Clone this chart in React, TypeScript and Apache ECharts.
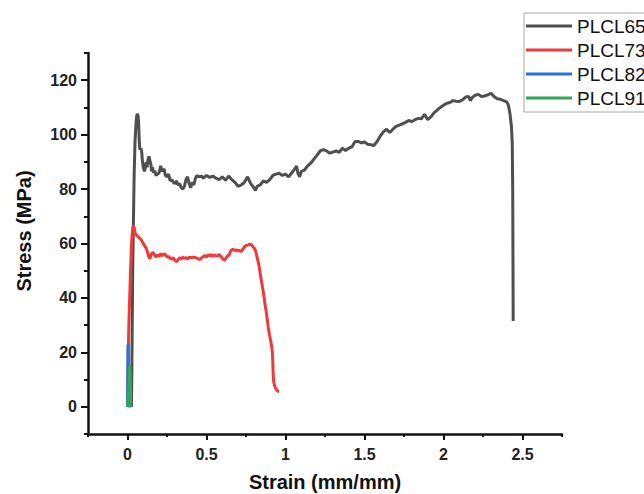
import React, { useEffect, useRef } from "react";
import * as echarts from "echarts";

const seriesNames = ["PLCL65", "PLCL73", "PLCL82", "PLCL91"];
const seriesColors = ["#4f4f4f", "#f03a3a", "#2b6fe0", "#2fa65c"];

const xMajorTicks = [0, 0.5, 1, 1.5, 2, 2.5];
const yMajorTicks = [0, 20, 40, 60, 80, 100, 120];

const plcl65: number[][] = [
  [0.025, 0], [0.027, 10], [0.03, 30], [0.033, 50], [0.037, 66], [0.042, 85], [0.048, 98], [0.055, 105],
  [0.06, 107.5], [0.066, 107.3], [0.07, 105], [0.074, 98], [0.078, 94.5], [0.085, 95], [0.09, 93.5],
  [0.095, 90], [0.1, 88], [0.107, 86.5], [0.112, 87.5], [0.118, 90], [0.124, 88], [0.13, 91], [0.136, 92],
  [0.142, 90.5], [0.148, 89], [0.152, 86.5], [0.158, 88], [0.165, 86], [0.172, 86.8], [0.18, 85],
  [0.19, 85.5], [0.2, 86], [0.21, 88.5], [0.22, 86.5], [0.23, 87.5], [0.24, 85], [0.25, 84.5], [0.26, 85.5],
  [0.27, 83], [0.28, 83.5], [0.29, 82.5], [0.3, 82], [0.31, 83], [0.32, 81.5], [0.33, 82], [0.34, 80.5],
  [0.35, 80], [0.36, 81], [0.37, 83.5], [0.38, 84.5], [0.39, 82], [0.4, 80.5], [0.41, 82.5], [0.42, 81.5],
  [0.43, 84], [0.44, 85], [0.45, 84.5], [0.47, 84.7], [0.48, 84], [0.5, 85], [0.52, 84.3], [0.54, 84.8],
  [0.56, 84], [0.58, 83.5], [0.6, 84.5], [0.62, 83.2], [0.64, 84.8], [0.66, 83.5], [0.68, 82.5], [0.7, 81],
  [0.72, 81.5], [0.74, 82.5], [0.76, 84.5], [0.78, 82], [0.8, 80.5], [0.81, 79.5], [0.82, 81], [0.84, 81.5],
  [0.86, 83], [0.88, 82.5], [0.9, 83.5], [0.92, 85], [0.94, 85.5], [0.96, 85.8], [0.98, 85], [1.0, 85.5],
  [1.02, 84.5], [1.04, 86], [1.06, 87.5], [1.07, 88.5], [1.08, 85.5], [1.09, 84.5], [1.1, 86.5], [1.12, 87],
  [1.14, 88.5], [1.16, 89.5], [1.18, 91], [1.2, 92.5], [1.22, 94], [1.24, 94.5], [1.26, 94], [1.28, 93.2],
  [1.3, 93.6], [1.32, 94], [1.34, 93.5], [1.36, 95], [1.38, 94.2], [1.4, 95], [1.42, 95.5], [1.44, 97.5],
  [1.46, 97.5], [1.48, 97], [1.5, 97.3], [1.52, 96.5], [1.54, 96.3], [1.56, 96], [1.58, 97.5], [1.6, 99.5],
  [1.62, 101], [1.64, 102], [1.66, 100.8], [1.68, 102], [1.7, 103], [1.72, 103.5], [1.74, 104], [1.76, 104.5],
  [1.78, 105.2], [1.8, 104.8], [1.82, 105.5], [1.84, 106], [1.86, 105.8], [1.88, 107.5], [1.9, 105.5],
  [1.92, 106.5], [1.94, 108], [1.96, 109], [1.98, 110], [2.0, 110.8], [2.02, 111.5], [2.04, 111.8],
  [2.06, 112.5], [2.08, 112.3], [2.1, 112.2], [2.12, 112.8], [2.14, 113.8], [2.16, 114], [2.17, 112.5],
  [2.18, 113.5], [2.2, 114.5], [2.22, 114.8], [2.24, 114], [2.26, 114.2], [2.28, 114.6], [2.3, 115.2],
  [2.32, 114], [2.34, 113.2], [2.36, 113], [2.38, 112.5], [2.4, 112], [2.41, 111], [2.42, 108], [2.43, 103],
  [2.435, 97], [2.438, 80], [2.44, 50], [2.441, 31.5],
];

const plcl73: number[][] = [
  [0, 0], [0.004, 12], [0.006, 23.6], [0.01, 33], [0.015, 42], [0.019, 50], [0.023, 56], [0.027, 61.5],
  [0.031, 64.5], [0.036, 66.4], [0.042, 66], [0.048, 64], [0.055, 63.2], [0.064, 62.7], [0.075, 62],
  [0.085, 61.5], [0.095, 60.5], [0.105, 59.5], [0.117, 58.4], [0.128, 56.5], [0.135, 55], [0.142, 54.5],
  [0.15, 56], [0.159, 56.8], [0.17, 56], [0.18, 55], [0.19, 55.8], [0.2, 55.2], [0.21, 56.3], [0.22, 55.5],
  [0.23, 56.2], [0.24, 56], [0.25, 55], [0.26, 55.2], [0.27, 54.5], [0.28, 54.2], [0.29, 54.8], [0.3, 53.8],
  [0.31, 53.3], [0.32, 54], [0.33, 54.8], [0.34, 54.2], [0.35, 55], [0.36, 54.5], [0.37, 54.8], [0.38, 54.3],
  [0.39, 55], [0.4, 54.8], [0.42, 55], [0.44, 54.6], [0.455, 54.1], [0.47, 54.8], [0.48, 55.2], [0.49, 55.6],
  [0.5, 55], [0.51, 55.8], [0.52, 55.5], [0.53, 56], [0.54, 55.2], [0.55, 55.8], [0.56, 55.5], [0.57, 55.4],
  [0.58, 56], [0.59, 55.3], [0.6, 54.6], [0.614, 53.8], [0.625, 54.8], [0.635, 55.5], [0.645, 56],
  [0.655, 57.5], [0.667, 57.8], [0.68, 57.5], [0.69, 57.6], [0.7, 57.3], [0.71, 57.5], [0.72, 57],
  [0.73, 58], [0.74, 58.8], [0.752, 59.3], [0.765, 59.5], [0.775, 59.8], [0.785, 59.5], [0.795, 58.8],
  [0.805, 58], [0.811, 57.2], [0.82, 55], [0.83, 52.5], [0.836, 50.5], [0.845, 47], [0.857, 43.1],
  [0.865, 40], [0.872, 37], [0.879, 34.6], [0.885, 32], [0.89, 29.5], [0.9, 26], [0.907, 24], [0.913, 22],
  [0.917, 19.9], [0.92, 16], [0.922, 12], [0.925, 9.4], [0.93, 8], [0.936, 7], [0.942, 6.4], [0.95, 5.8],
  [0.959, 5.6],
];

const plcl82: number[][] = [
  [0, 0], [0.001, 8], [0.002, 16], [0.003, 22.9], [0.004, 22], [0.006, 10], [0.008, 2], [0.01, 0.5],
  [0.02, 0.3], [0.03, 0.6],
];

const plcl91: number[][] = [
  [0, 0], [0.005, 5], [0.01, 10], [0.014, 15], [0.017, 14], [0.019, 6], [0.02, 1], [0.012, 0.3], [0.004, 0.2],
];

const FONT = "'Liberation Sans', Arial, sans-serif";

export default function App() {
  const ref = useRef<HTMLDivElement>(null);
  useEffect(() => {
    if (!ref.current) return;
    const chart = echarts.init(ref.current, null, { renderer: "svg" });
    const allData = [plcl65, plcl73, plcl82, plcl91];
    const widths = [3, 3, 3, 3];
    chart.setOption({
      animation: false,
      backgroundColor: "#ffffff",
      textStyle: { fontFamily: FONT },
      grid: { left: 88, right: 82, top: 53, bottom: 60, containLabel: false, outerBoundsMode: "none" },
      legend: {
        orient: "vertical",
        left: 524,
        top: 13,
        itemWidth: 46,
        itemHeight: 3,
        itemGap: 4,
        icon: "rect",
        padding: [3, 12, 4, 2],
        borderColor: "#a8a8a8",
        borderWidth: 1,
        textStyle: { fontSize: 19, fontFamily: FONT, color: "#111", lineHeight: 20 },
        data: seriesNames,
      },
      xAxis: [
        {
          type: "value",
          position: "bottom",
          min: -0.25,
          max: 2.75,
          name: "Strain (mm/mm)",
          nameLocation: "middle",
          nameGap: 38,
          nameTextStyle: { fontSize: 20, fontWeight: "bold", color: "#111", fontFamily: FONT },
          axisLine: { show: true, onZero: false, lineStyle: { color: "#111", width: 2.5 } },
          axisTick: { show: true, inside: false, length: 6, customValues: xMajorTicks, lineStyle: { color: "#111", width: 2 } },
          axisLabel: { show: true, customValues: xMajorTicks, margin: 12, fontSize: 16, fontWeight: "bold", color: "#222", fontFamily: FONT },
          splitLine: { show: false },
        },
        {
          type: "value",
          position: "bottom",
          min: -0.25,
          max: 2.75,
          interval: 0.25,
          axisLine: { show: false, onZero: false },
          axisTick: { show: true, inside: false, length: 3, lineStyle: { color: "#111", width: 2 } },
          axisLabel: { show: false },
          splitLine: { show: false },
        },
      ],
      yAxis: [
        {
          type: "value",
          position: "left",
          min: -10,
          max: 130,
          axisLine: { show: true, onZero: false, lineStyle: { color: "#111", width: 2.5 } },
          axisTick: { show: true, inside: false, length: 7, customValues: yMajorTicks, lineStyle: { color: "#111", width: 2 } },
          axisLabel: { show: true, customValues: yMajorTicks, margin: 11, fontSize: 16, fontWeight: "bold", color: "#222", fontFamily: FONT },
          splitLine: { show: false },
        },
        {
          type: "value",
          position: "left",
          min: -10,
          max: 130,
          interval: 10,
          axisLine: { show: false, onZero: false },
          axisTick: { show: true, inside: false, length: 4, lineStyle: { color: "#111", width: 2 } },
          axisLabel: { show: false },
          splitLine: { show: false },
        },
      ],
      graphic: [
        {
          type: "text",
          x: 24,
          y: 231,
          rotation: Math.PI / 2,
          style: {
            text: "Stress (MPa)",
            font: `bold 20px ${FONT}`,
            fill: "#111",
            align: "center",
            verticalAlign: "middle",
            textAlign: "center",
            textVerticalAlign: "middle",
          },
        },
      ],
      series: seriesNames.map((name, i) => ({
        name,
        type: "line",
        xAxisIndex: 0,
        yAxisIndex: 0,
        data: allData[i],
        symbol: "none",
        showSymbol: false,
        smooth: false,
        clip: false,
        itemStyle: { color: seriesColors[i] },
        lineStyle: { color: seriesColors[i], width: widths[i] },
        z: 2 + i,
      })),
    });
    return () => chart.dispose();
  }, []);
  return (
    <div
      ref={ref}
      style={{ position: "fixed", left: 0, top: 0, width: 644, height: 494, background: "#fff" }}
    />
  );
}
